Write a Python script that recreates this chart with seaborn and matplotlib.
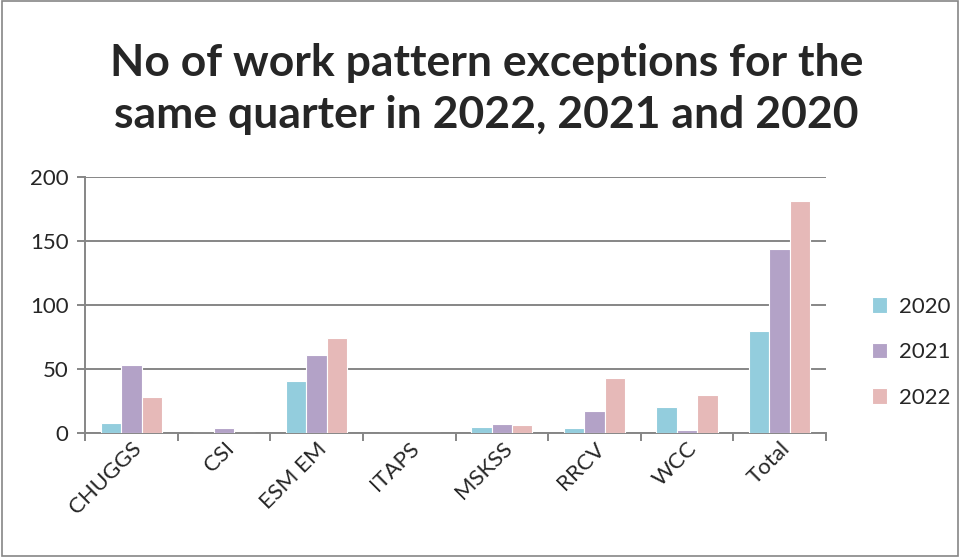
import pandas as pd
import matplotlib
matplotlib.use("Agg")
import matplotlib.pyplot as plt
import seaborn as sns
from matplotlib.patches import Rectangle

# data
categories = ["CHUGGS", "CSI", "ESM EM", "ITAPS", "MSKSS", "RRCV", "WCC", "Total"]
years = ["2020", "2021", "2022"]
vals_2020 = [8, 0, 41, 0, 5, 4, 20, 80]
vals_2021 = [53, 4, 61, 0, 7, 17, 2, 144]
vals_2022 = [28, 0, 74, 0, 6, 43, 30, 181]
colors = ["#93CDDD", "#B3A2C7", "#E6B9B8"]

df = pd.DataFrame({
    "category": categories * 3,
    "year": [y for y in years for _ in categories],
    "value": vals_2020 + vals_2021 + vals_2022,
})

sns.set_theme(style="white")
plt.rcParams["font.family"] = ["Lato", "DejaVu Sans"]

fig = plt.figure(figsize=(9.6, 5.57), dpi=100)
ax = fig.add_axes([85 / 960, 1 - 433 / 557, (826 - 85) / 960, (433 - 177) / 557])

sns.barplot(data=df, x="category", y="value", hue="year", palette=colors,
            saturation=1, width=0.66, gap=0, edgecolor="white", linewidth=0.8,
            ax=ax, zorder=3)

ax.set_ylim(0, 200)
ax.set_yticks([0, 50, 100, 150, 200])
ax.set_xlim(-0.5, len(categories) - 0.5)
ax.grid(axis="y", color="#868686", linewidth=1.4, zorder=0)
ax.set_axisbelow(True)
for s in ["top", "right"]:
    ax.spines[s].set_visible(False)
for s in ["left", "bottom"]:
    ax.spines[s].set_color("#868686")
    ax.spines[s].set_linewidth(1.4)

# excel style ticks between categories
ax.set_xticks([i - 0.5 for i in range(len(categories) + 1)], minor=True)
ax.tick_params(axis="x", which="minor", length=6, width=1.4, color="#868686", direction="out", bottom=True)
ax.tick_params(axis="x", which="major", length=0, labelsize=16, pad=4)
ax.tick_params(axis="y", length=6, width=1.4, color="#868686", direction="out", left=True, labelsize=16, pad=6)
ax.set_xticklabels(categories, rotation=45, ha="right", rotation_mode="anchor")
ax.set_xlabel("")
ax.set_ylabel("")

ax.legend(loc="center left", bbox_to_anchor=(1.035, 0.316), frameon=False,
          fontsize=16, handlelength=0.7, handleheight=0.7, labelspacing=1.15,
          handletextpad=0.5)

fig.text(0.507, 0.84, "No of work pattern exceptions for the\nsame quarter in 2022, 2021 and 2020",
         ha="center", va="center", fontsize=32, fontweight="bold", linespacing=1.38)

fig.patches.append(Rectangle((0.002, 0.002), 0.996, 0.996, transform=fig.transFigure,
                             fill=False, edgecolor="#868686", linewidth=1.2))

fig.savefig("out.png", dpi=100)
